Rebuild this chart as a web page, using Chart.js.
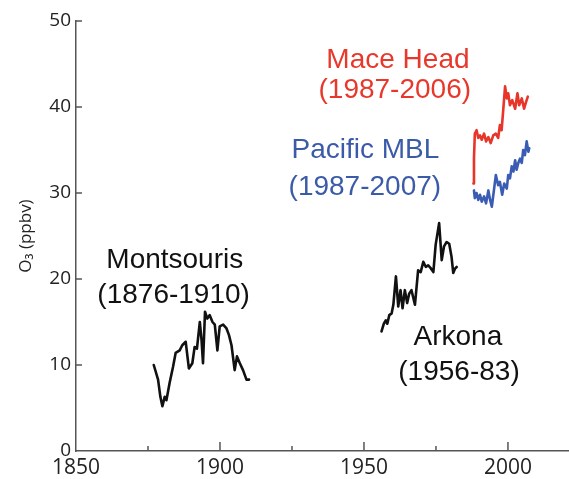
<!DOCTYPE html>
<html><head><meta charset="utf-8">
<script src="https://cdn.jsdelivr.net/npm/chart.js@4/dist/chart.umd.min.js"></script>
<style>html,body{margin:0;padding:0;background:#fff}</style>
</head><body>
<canvas id="c" width="569" height="479" style="display:block;width:569px;height:479px"></canvas>
<script>
const xTicks = [1850, 1900, 1950, 2000];
const xMinorTicks = [1875, 1925, 1975];
const yTicks = [0, 10, 20, 30, 40, 50];

const montsourisYears = [1877.0,1878.5,1879.3,1880.0,1880.8,1881.4,1882.5,1883.7,1884.6,1886.0,1886.9,1888.1,1889.2,1890.4,1891.2,1892.0,1893.0,1893.6,1894.1,1894.8,1895.6,1896.4,1897.4,1898.2,1899.1,1899.9,1901.1,1902.2,1903.1,1904.0,1905.1,1905.9,1906.9,1908.0,1909.2,1910.1];
const montsourisO3 = [10.0,8.3,6.3,5.2,6.3,5.9,7.9,9.8,11.4,11.7,12.3,12.7,9.6,10.2,12.1,11.9,15.0,12.9,10.2,16.2,15.4,15.8,15.0,14.7,11.7,14.5,14.7,14.3,13.5,12.3,9.4,11.0,10.2,9.4,8.3,8.3];

const arkonaYears = [1956.1,1956.9,1957.6,1958.1,1958.8,1959.6,1960.2,1961.1,1961.9,1962.7,1963.4,1964.2,1965.0,1965.7,1966.5,1967.7,1968.8,1969.7,1970.6,1971.5,1972.3,1973.3,1974.1,1974.9,1976.1,1977.0,1977.8,1978.7,1979.6,1980.4,1981.0,1981.6,1982.2];
const arkonaO3 = [13.9,14.8,15.2,14.8,15.8,16.0,17.0,20.3,16.8,18.7,16.6,18.7,17.2,18.3,18.7,17.0,21.0,20.8,22.0,21.4,21.6,21.2,20.8,24.0,26.5,22.2,23.8,24.3,24.1,22.6,20.7,21.2,21.4];

const maceHeadYears = [1988.0,1988.2,1988.5,1989.1,1989.7,1990.3,1990.9,1991.7,1992.4,1993.2,1994.0,1994.9,1995.8,1996.6,1997.2,1997.8,1998.4,1999.0,1999.6,2000.1,2000.7,2001.5,2002.5,2003.3,2003.9,2004.8,2005.6,2006.3,2006.9];
const maceHeadO3 = [31.1,34.0,36.9,37.3,36.4,36.7,36.2,36.9,36.0,36.5,35.8,36.7,36.9,36.4,37.9,37.3,39.8,42.4,41.0,41.6,40.2,40.8,39.8,41.6,40.2,41.0,39.8,40.6,41.2];

const pacificYears = [1988.2,1988.5,1989.1,1989.7,1990.3,1990.9,1991.7,1992.4,1993.2,1993.8,1994.4,1995.2,1995.8,1996.6,1997.2,1998.0,1998.7,1999.6,2000.1,2000.7,2001.3,2001.9,2002.5,2003.0,2003.6,2004.2,2004.8,2005.3,2005.9,2006.5,2007.1,2007.4];
const pacificO3 = [30.3,29.4,30.0,29.2,29.8,29.0,29.6,28.8,30.3,29.2,28.4,30.5,32.1,30.9,31.3,29.8,31.1,30.5,32.1,31.7,33.1,32.5,33.8,32.7,33.5,34.0,33.5,35.0,34.4,36.0,34.8,35.2];

const annotationText = ['Mace Head','(1987-2006)','Pacific MBL','(1987-2007)','Montsouris','(1876-1910)','Arkona','(1956-83)'];
const annotationYear = [1961.8,1960.7,1950.5,1950.3,1884.3,1883.9,1982.6,1983.0];
const annotationO3 = [44.5,41.0,34.1,29.8,21.3,17.2,12.3,8.3];
const annotationColor = ['#e8382b','#e8382b','#3b5ba9','#3b5ba9','#111','#111','#111','#111'];

const RED = '#e8352a', BLUE = '#3a5cb3', BLACK = '#111';
const AXIS = '#555';

function pts(xs, ys){ return xs.map((x,i)=>({x, y: ys[i]})); }

const tickPlugin = {
  id: 'inwardTicks',
  afterDraw(chart){
    const ctx = chart.ctx, xs = chart.scales.x, ys = chart.scales.y;
    const bottom = chart.chartArea.bottom, left = chart.chartArea.left;
    ctx.save();
    ctx.strokeStyle = AXIS; ctx.lineWidth = 1.5;
    ctx.beginPath();
    xTicks.forEach(v=>{ const p = xs.getPixelForValue(v); if (v>xs.min){ ctx.moveTo(p,bottom); ctx.lineTo(p,bottom-9);} });
    xMinorTicks.forEach(v=>{ const p = xs.getPixelForValue(v); ctx.moveTo(p,bottom); ctx.lineTo(p,bottom-5); });
    yTicks.forEach(v=>{ const p = ys.getPixelForValue(v); if (v>ys.min){ ctx.moveTo(left,p); ctx.lineTo(left+6,p);} });
    ctx.stroke();
    ctx.restore();
  }
};

const labelPlugin = {
  id: 'seriesLabels',
  afterDatasetsDraw(chart){
    const ctx = chart.ctx, xs = chart.scales.x, ys = chart.scales.y;
    ctx.save();
    ctx.font = '28px "Liberation Sans", Arial, sans-serif';
    ctx.textAlign = 'center';
    ctx.textBaseline = 'alphabetic';
    annotationText.forEach((t,i)=>{
      ctx.fillStyle = annotationColor[i];
      ctx.fillText(t, xs.getPixelForValue(annotationYear[i]), ys.getPixelForValue(annotationO3[i]));
    });
    ctx.restore();
  }
};

const ds = (label, xs, ys, color) => ({
  label, data: pts(xs, ys), borderColor: color, backgroundColor: color,
  borderWidth: 2.6, pointRadius: 0, tension: 0, fill: false, borderJoinStyle: 'round', borderCapStyle: 'round'
});

new Chart(document.getElementById('c'), {
  type: 'line',
  data: { datasets: [
    ds('Montsouris (1876-1910)', montsourisYears, montsourisO3, BLACK),
    ds('Arkona (1956-83)', arkonaYears, arkonaO3, BLACK),
    ds('Mace Head (1987-2006)', maceHeadYears, maceHeadO3, RED),
    ds('Pacific MBL (1987-2007)', pacificYears, pacificO3, BLUE)
  ]},
  options: {
    responsive: false, animation: false, devicePixelRatio: 1,
    layout: { padding: { top: 21, right: 0, left: 0, bottom: 0 } },
    plugins: { legend: { display: false }, tooltip: { enabled: false } },
    scales: {
      x: {
        type: 'linear', min: 1850, max: 2021.2,
        afterBuildTicks: s => { s.ticks = xTicks.map(v=>({value:v})); },
        afterFit: s => { s.height = 28; },
        grid: { display: false, drawTicks: false },
        border: { display: true, color: AXIS, width: 1.5 },
        ticks: { color: '#222', padding: 4, maxRotation: 0, autoSkip: false,
          callback: v => String(v),
          font: { family: '"Open Sans", "Noto Sans", sans-serif', size: 21 } }
      },
      y: {
        type: 'linear', min: 0, max: 50,
        afterBuildTicks: s => { s.ticks = yTicks.map(v=>({value:v})); },
        afterFit: s => { s.width = 76; },
        grid: { display: false, drawTicks: false },
        border: { display: true, color: AXIS, width: 1.5 },
        ticks: { color: '#222', padding: 5, callback: v => String(v),
          font: { family: '"Open Sans", "Noto Sans", sans-serif', size: 19 } },
        title: { display: true, text: 'O₃ (ppbv)', color: '#222', padding: { top: 16, bottom: 0 },
          font: { family: '"Open Sans", "DejaVu Sans", sans-serif', size: 17 } }
      }
    }
  },
  plugins: [tickPlugin, labelPlugin]
});
</script>
</body></html>
